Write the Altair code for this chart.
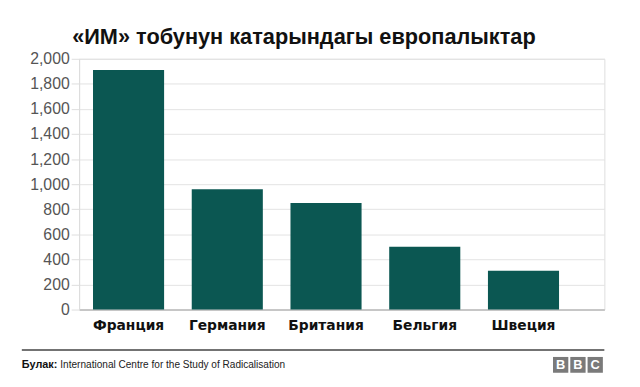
import altair as alt
import pandas as pd

countries = ["Франция", "Германия", "Британия", "Бельгия", "Швеция"]
values = [1910, 960, 850, 500, 310]
y_ticks = [0, 200, 400, 600, 800, 1000, 1200, 1400, 1600, 1800, 2000]

title_text = "«ИМ» тобунун катарындагы европалыктар"
source_label = "Булак:"
source_text = "International Centre for the Study of Radicalisation"
logo_letters = ["B", "B", "C"]

df = pd.DataFrame({"country": countries, "value": values})

W, H = 532, 254
FONT = "Liberation Sans"

bars = alt.Chart(df).mark_bar(color="#0b5752").encode(
    x=alt.X("country:N", sort=countries, title=None,
            scale=alt.Scale(paddingInner=0.28, paddingOuter=0.30, align=0.235),
            axis=alt.Axis(labelAngle=0, labelFont="DejaVu Sans", labelFontSize=14,
                          labelFontWeight="bold", labelColor="#111111",
                          labelPadding=9, ticks=False, domainColor="#bbbbbb",
                          domainWidth=1.5, grid=False)),
    y=alt.Y("value:Q", title=None,
            scale=alt.Scale(domain=[0, 2000], nice=False),
            axis=alt.Axis(values=y_ticks, format=",d", labelFont=FONT,
                          labelFontSize=16, labelColor="#555555",
                          labelPadding=2, tickSize=8, tickColor="#dddddd",
                          domainColor="#dddddd", gridColor="#e3e3e3")),
)

title = alt.Chart(pd.DataFrame({"t": [title_text]})).mark_text(
    font=FONT, fontSize=22, fontWeight="bold", color="#111111",
    align="left", baseline="middle"
).encode(text="t:N", x=alt.value(-7), y=alt.value(-22))

footer_line = alt.Chart(pd.DataFrame({"a": [0]})).mark_rule(
    color="#444444", strokeWidth=1.5
).encode(x=alt.value(-58), x2=alt.value(532), y=alt.value(295))

src_bold = alt.Chart(pd.DataFrame({"t": [source_label]})).mark_text(
    font=FONT, fontSize=11, fontWeight="bold", color="#111111",
    align="left", baseline="middle"
).encode(text="t:N", x=alt.value(-58), y=alt.value(310))

src_txt = alt.Chart(pd.DataFrame({"t": [source_text]})).mark_text(
    font=FONT, fontSize=10.2, color="#222222",
    align="left", baseline="middle"
).encode(text="t:N", x=alt.value(-19), y=alt.value(310))

logo_layers = []
for i, letter in enumerate(logo_letters):
    x0 = 480 + i * 17.5
    box = alt.Chart(pd.DataFrame({"a": [0]})).mark_rect(color="#7a7a7a").encode(
        x=alt.value(x0), x2=alt.value(x0 + 15.5), y=alt.value(302), y2=alt.value(318))
    txt = alt.Chart(pd.DataFrame({"t": [letter]})).mark_text(
        font=FONT, fontSize=13, fontWeight="bold", color="white",
        align="center", baseline="middle"
    ).encode(text="t:N", x=alt.value(x0 + 7.75), y=alt.value(310.5))
    logo_layers += [box, txt]

chart = alt.layer(bars, title, footer_line, src_bold, src_txt, *logo_layers).properties(
    width=W, height=H,
    autosize=alt.AutoSizeParams(type="none"),
    padding={"left": 72, "top": 49, "right": 28, "bottom": 76},
).configure_view(stroke=None).configure(background="white")

chart.save("out.html", embed_options={"renderer": "svg", "actions": False})
